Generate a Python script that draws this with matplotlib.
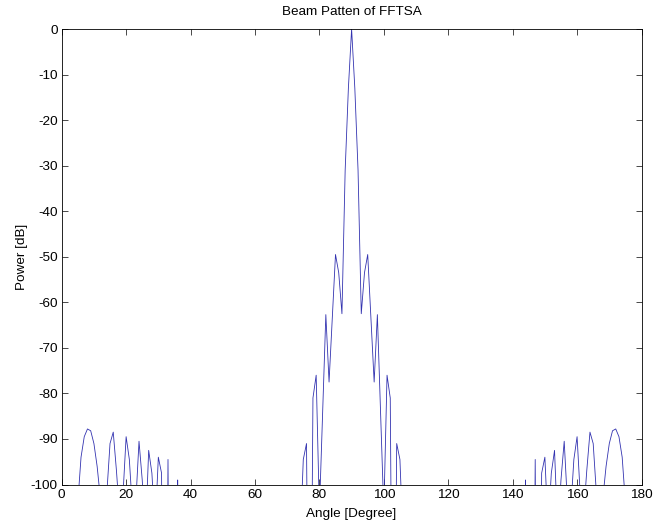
import numpy as np
import matplotlib
matplotlib.use("Agg")
import matplotlib.pyplot as plt

# angle grid, 1 degree steps
angle = np.arange(0, 181)

# power in dB (values below -100 are out of view)
power = [
    -200, -200, -200, -200, -200, -104, -94, -89.5, -87.8, -88.2,   # 0-9
    -91, -96, -103, -130, -102, -91, -88.5, -97, -107, -102.6,      # 10-19
    -89.5, -94.5, -106, -104, -90.5, -99, -111, -92.5, -97.5, -110,  # 20-29
    -94, -97.5, -200, -94.5, -200, -200, -99, -200, -200, -200,     # 30-39
    -200, -200, -200, -200, -200, -200, -200, -200, -200, -200,     # 40-49
    -200, -200, -200, -200, -200, -200, -200, -200, -200, -200,     # 50-59
    -200, -200, -200, -200, -200, -200, -200, -200, -200, -200,     # 60-69
    -200, -200, -200, -200, -113, -94.5, -91, -176, -81, -76,       # 70-79
    -106, -84, -62.7, -77.5, -63.5, -49.5, -53.5, -62.5, -31, -13,  # 80-89
    0,                                                              # 90
    -13, -31, -62.5, -53.5, -49.5, -63.5, -77.5, -62.7, -84, -106,  # 91-100
    -76, -81, -176, -91, -94.5, -113, -200, -200, -200, -200,       # 101-110
    -200, -200, -200, -200, -200, -200, -200, -200, -200, -200,     # 111-120
    -200, -200, -200, -200, -200, -200, -200, -200, -200, -200,     # 121-130
    -200, -200, -200, -200, -200, -200, -200, -200, -200, -200,     # 131-140
    -200, -200, -200, -99, -200, -200, -94.5, -200, -97.5, -94,     # 141-150
    -110, -97.5, -92.5, -111, -99, -90.5, -104, -106, -94.5, -89.5, # 151-160
    -102.6, -107, -97, -88.5, -91, -102, -130, -103, -96, -91,      # 161-170
    -88.2, -87.8, -89.5, -94, -104, -200, -200, -200, -200, -200,   # 171-180
]

x_ticks = [0, 20, 40, 60, 80, 100, 120, 140, 160, 180]
y_ticks = [-100, -90, -80, -70, -60, -50, -40, -30, -20, -10, 0]

plt.rcParams['font.family'] = ['Liberation Sans', 'DejaVu Sans']
plt.rcParams['font.size'] = 9.7
plt.rcParams['axes.unicode_minus'] = False  # matlab style hyphen

fig = plt.figure(figsize=(6.55, 5.27), dpi=100)
ax = fig.add_axes([0.0942, 0.0806, 0.8852, 0.8643])

ax.plot(angle, power, color='#3232b0', linewidth=0.6)

ax.set_xlim(0, 180)
ax.set_ylim(-100, 0)
ax.set_xticks(x_ticks)
ax.set_yticks(y_ticks)
ax.tick_params(direction='in', top=True, right=True, length=4, width=0.5, pad=3)
for s in ax.spines.values():
    s.set_linewidth(0.6)

ax.set_title('Beam Patten of FFTSA', fontsize=9.7, pad=10)
ax.set_xlabel('Angle [Degree]', labelpad=5)
ax.set_ylabel('Power [dB]', labelpad=2)

fig.savefig('out.png', dpi=100)
